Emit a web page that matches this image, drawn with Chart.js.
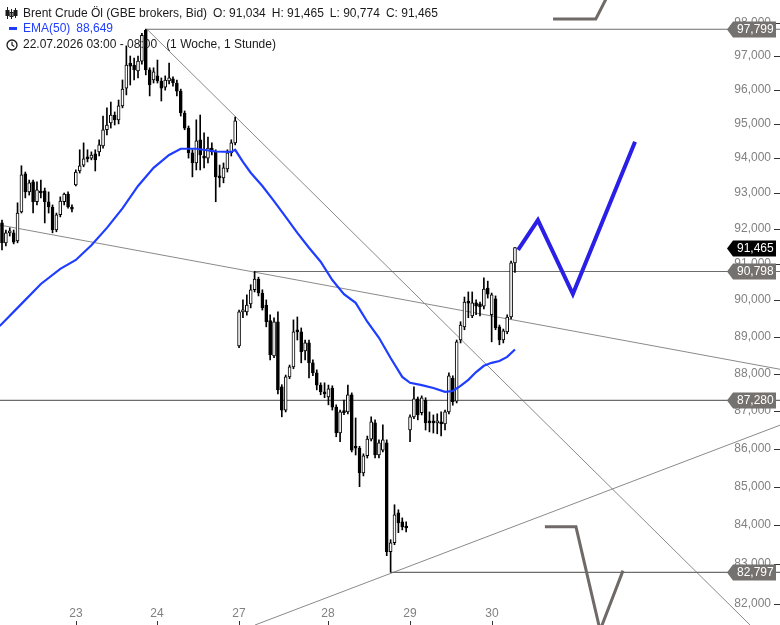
<!DOCTYPE html>
<html lang="de">
<head>
<meta charset="utf-8">
<title>Brent Crude Öl</title>
<script src="https://cdn.jsdelivr.net/npm/chart.js@4.4.1/dist/chart.umd.min.js"></script>
<style>
  html, body { margin: 0; padding: 0; background: #fff; }
  #wrap { position: relative; width: 780px; height: 625px; overflow: hidden;
          font-family: "Liberation Sans", Arial, sans-serif; }
  #chart { position: absolute; left: 0; top: 0; }
  .info { position: absolute; left: 23px; font-size: 12px; line-height: 14px;
          color: #1a1a1a; white-space: nowrap; }
  .info span + span { margin-left: 6px; }
  .ema { color: #1f3dff; }
  .ico { position: absolute; }
</style>
</head>
<body>
<div id="wrap">
  <canvas id="chart" width="780" height="625"></canvas>

  <svg class="ico" style="left:5px;top:7px" width="13" height="12" viewBox="0 0 13 12">
    <g stroke="#1a1a1a" stroke-width="1" fill="none">
      <line x1="2.5" y1="0" x2="2.5" y2="12"/><rect x="1" y="3.5" width="3" height="5" fill="#1a1a1a"/>
      <line x1="6.5" y1="2" x2="6.5" y2="12"/><rect x="5" y="5.5" width="3" height="4"/>
      <line x1="10.5" y1="1" x2="10.5" y2="11"/><rect x="9" y="3.5" width="3" height="5" fill="#1a1a1a"/>
    </g>
  </svg>
  <div class="info" style="top:6px"><span>Brent Crude Öl (GBE brokers, Bid)</span><span>O: 91,034</span><span>H: 91,465</span><span>L: 90,774</span><span>C: 91,465</span></div>

  <div class="ico" style="left:9px;top:27px;width:8px;height:3px;background:#1f3dff"></div>
  <div class="info ema" style="top:21px"><span>EMA(50)</span><span>88,649</span></div>

  <svg class="ico" style="left:6px;top:39px" width="12" height="12" viewBox="0 0 12 12">
    <circle cx="6" cy="6" r="5" stroke="#1a1a1a" stroke-width="1.3" fill="none"/>
    <polyline points="6,2.8 6,6 8.3,7.6" stroke="#1a1a1a" stroke-width="1.2" fill="none"/>
  </svg>
  <div class="info" style="top:37px"><span>22.07.2026 03:00 - 08:00</span><span style="margin-left:9px">(1 Woche, 1 Stunde)</span></div>
</div>

<script>
// Stundenkerzen, Index 0 = erste sichtbare Kerze
const opens = [
  92.16, 91.60, 91.88, 91.88, 91.65, 92.47, 93.56, 93.04, 93.33, 92.76,
  93.04, 93.07, 92.76, 92.61, 91.96, 92.39, 92.76, 92.98, 92.61, 93.24,
  93.64, 93.81, 94.04, 94.01, 94.13, 94.19, 94.36, 94.83, 95.03, 95.26,
  95.12, 95.53, 96.05, 96.79, 96.73, 96.56, 96.85, 97.77, 96.59, 96.29,
  96.41, 96.26, 96.08, 96.26, 96.32, 96.20, 95.96, 95.32, 94.88, 94.16,
  93.87, 94.54, 94.07, 94.01, 94.30, 94.19, 93.50, 93.44, 93.70, 94.16,
  94.45, 88.75, 89.68, 89.68, 89.90, 90.29, 90.59, 90.20, 89.87, 89.44,
  88.48, 89.41, 87.64, 87.02, 87.91, 88.18, 89.19, 89.13, 88.61, 88.83,
  88.29, 88.02, 87.69, 87.51, 87.37, 87.61, 87.10, 86.41, 86.97, 86.97,
  87.43, 86.04, 86.01, 85.36, 85.81, 86.25, 86.68, 85.83, 85.96, 86.15,
  83.32, 83.55, 84.32, 84.09, 83.98, 86.49, 86.84, 87.32, 86.95, 87.29,
  86.71, 86.71, 86.68, 86.71, 86.65, 86.97, 87.88, 87.26, 88.91, 89.27,
  89.95, 89.57, 89.93, 89.90, 89.84, 90.34, 89.60, 90.04, 89.27, 88.91,
  89.13, 89.54, 91.034
];
const highs = [
  92.24, 91.96, 92.02, 91.96, 92.73, 93.79, 93.61, 93.38, 93.38, 93.33,
  93.38, 93.15, 93.04, 92.67, 92.44, 92.90, 93.01, 93.04, 92.67, 93.67,
  94.25, 94.45, 94.25, 94.19, 94.25, 94.54, 95.23, 95.47, 95.64, 95.35,
  95.70, 96.29, 97.30, 97.00, 96.94, 97.00, 97.68, 97.80, 96.65, 96.65,
  96.88, 96.35, 96.41, 96.79, 96.38, 96.29, 96.02, 95.38, 94.94, 94.25,
  95.12, 95.26, 94.74, 94.62, 94.45, 94.25, 93.81, 93.87, 94.25, 94.54,
  95.20, 89.73, 90.01, 90.15, 90.43, 90.80, 90.64, 90.29, 90.01, 89.60,
  89.52, 89.68, 87.70, 87.96, 88.23, 89.46, 89.54, 89.24, 88.91, 88.91,
  88.37, 88.10, 87.75, 87.75, 87.69, 87.67, 87.16, 87.02, 87.29, 87.69,
  87.48, 86.81, 86.06, 85.86, 86.33, 86.84, 86.76, 86.23, 86.63, 86.23,
  83.63, 84.53, 84.40, 84.19, 84.09, 86.89, 87.64, 87.37, 87.40, 87.35,
  86.97, 86.89, 86.92, 86.97, 87.02, 88.02, 87.94, 88.91, 89.41, 90.09,
  90.23, 90.23, 90.01, 89.95, 90.62, 90.53, 90.20, 90.12, 89.32, 89.21,
  89.60, 91.09, 91.465
];
const lows = [
  91.40, 91.51, 91.79, 91.57, 91.60, 92.44, 92.87, 92.95, 92.44, 92.67,
  92.87, 92.16, 92.44, 91.88, 91.91, 92.33, 92.67, 92.58, 92.47, 93.21,
  93.58, 93.76, 93.90, 93.96, 93.64, 94.07, 94.30, 94.68, 94.88, 94.97,
  95.00, 95.47, 95.85, 96.14, 96.29, 96.35, 96.76, 96.44, 95.82, 96.20,
  96.20, 95.67, 95.99, 96.17, 96.11, 95.82, 95.23, 94.83, 94.01, 93.47,
  93.67, 93.67, 93.73, 93.87, 94.10, 92.76, 93.18, 93.30, 93.61, 94.07,
  94.39, 88.70, 89.52, 89.59, 89.79, 90.23, 90.12, 89.73, 89.27, 88.37,
  88.43, 87.45, 86.84, 86.97, 87.86, 88.13, 88.91, 88.29, 88.37, 87.88,
  87.94, 87.56, 87.43, 87.35, 87.16, 87.02, 86.31, 86.18, 86.90, 86.92,
  85.91, 85.83, 85.00, 85.28, 85.75, 86.20, 85.75, 85.75, 85.91, 83.22,
  82.80, 83.50, 83.81, 83.88, 83.83, 86.18, 86.79, 86.76, 86.89, 86.49,
  86.44, 86.41, 86.39, 86.33, 86.49, 86.92, 87.15, 87.21, 88.83, 89.19,
  89.52, 89.52, 89.60, 89.57, 89.76, 90.06, 88.86, 89.19, 88.78, 88.83,
  89.08, 89.49, 90.774
];
const closes = [
  91.60, 91.88, 91.93, 91.62, 92.44, 93.53, 93.04, 93.30, 92.76, 93.10,
  93.01, 92.76, 92.61, 91.96, 92.39, 92.78, 92.98, 92.61, 92.55, 93.61,
  93.79, 93.99, 93.99, 94.10, 93.96, 94.39, 94.83, 94.97, 95.26, 95.12,
  95.53, 96.02, 96.73, 96.70, 96.59, 96.85, 97.62, 96.59, 96.14, 96.53,
  96.26, 96.05, 96.29, 96.35, 96.20, 95.96, 95.32, 94.88, 94.16, 93.87,
  94.51, 94.10, 94.01, 94.30, 94.19, 93.47, 93.44, 93.73, 94.16, 94.45,
  95.09, 89.68, 89.71, 89.87, 90.29, 90.59, 90.20, 89.79, 89.41, 88.51,
  89.41, 87.56, 87.02, 87.91, 88.18, 89.13, 89.13, 88.59, 88.83, 88.29,
  88.02, 87.69, 87.51, 87.45, 87.59, 87.10, 86.41, 86.97, 86.95, 87.43,
  85.96, 86.01, 85.36, 85.81, 86.25, 86.71, 85.83, 86.15, 86.23, 83.32,
  83.55, 84.27, 84.06, 83.96, 83.93, 86.84, 87.32, 86.89, 87.35, 86.68,
  86.68, 86.68, 86.71, 86.65, 86.97, 87.94, 87.24, 88.86, 89.32, 89.95,
  89.92, 89.93, 89.84, 89.82, 90.31, 90.17, 90.15, 89.24, 88.91, 89.16,
  89.54, 91.04, 91.465
];

// Achse
const dayLabels = ['23', '24', '27', '28', '29', '30'];
const dayStart = [19, 40, 61, 84, 105, 126];
const yTicks = [82, 83, 84, 85, 86, 87, 88, 89, 90, 91, 92, 93, 94, 95, 96, 97, 98];
const lastPrice = 91.465;

// EMA(50)
const emaIdx = [-0.6, 5, 10, 15, 19, 23, 27, 31, 35, 39, 43, 46, 50, 55, 59, 60, 62, 64, 67, 70,
  73, 76, 79, 82, 85, 88, 91, 94, 97, 100, 103, 105, 108, 111, 114, 116, 118, 120, 122, 124,
  126, 128, 130, 132];
const emaVal = [89.29, 89.90, 90.45, 90.87, 91.12, 91.53, 92.02, 92.57, 93.21, 93.73, 94.10,
  94.28, 94.28, 94.20, 94.19, 94.25, 93.90, 93.59, 93.21, 92.78, 92.33, 91.88, 91.46, 91.07,
  90.56, 90.17, 89.93, 89.41, 88.97, 88.42, 87.91, 87.75, 87.69, 87.61, 87.51, 87.53, 87.67,
  87.83, 88.04, 88.21, 88.29, 88.34, 88.45, 88.65];

// horizontale Marken
const levels = [97.799, 90.798, 87.280, 82.797];
const levelFrom = [36.8, 65, -1, 100];

// Trendlinien (Index, Kurs)
const trendAx = [37.3, 192.5], trendAy = [97.80, 81.47];
const trendBx = [-0.6, 200.5], trendBy = [92.10, 88.11];
const trendCx = [65.1, 200.5], trendCy = [81.47, 86.63];

// Prognose
const fcX = [132.8, 137.9, 146.9, 162.9];
const fcY = [91.40, 92.24, 90.17, 94.48];
const projTopX = [141.8, 152.8, 155.6];
const projTopY = [98.11, 98.11, 98.75];
const projBotX = [139.7, 147.7, 153.9, 159.8];
const projBotY = [83.96, 83.96, 81.34, 82.84];

const fmt = v => v.toFixed(3).replace('.', ',');
const idx = opens.map((_, i) => i);

function lineSet(xs, ys, color, width, order) {
    return {
        type: 'line',
        data: xs.map((x, k) => ({ x: x, y: ys[k] })),
        borderColor: color,
        borderWidth: width,
        pointRadius: 0,
        fill: false,
        tension: 0,
        order: order
    };
}

// Achsenbeschriftung, Preisschilder
const overlay = {
    id: 'overlay',
    afterDatasetsDraw(chart) {
        const { ctx, scales: { x, y } } = chart;
        ctx.save();
        ctx.font = '12px "Liberation Sans", Arial, sans-serif';
        ctx.textBaseline = 'middle';

        ctx.textAlign = 'right';
        yTicks.forEach(v => {
            const py = Math.round(y.getPixelForValue(v));
            ctx.fillStyle = '#808080';
            ctx.fillText(fmt(v), 771, py);
            ctx.fillStyle = '#333';
            ctx.fillRect(774, py, 6, 1);
        });

        function tag(v, color) {
            const py = Math.round(y.getPixelForValue(v)) + 0.5;
            ctx.fillStyle = color;
            ctx.beginPath();
            ctx.moveTo(727, py);
            ctx.lineTo(733, py - 8);
            ctx.lineTo(776, py - 8);
            ctx.lineTo(776, py + 8);
            ctx.lineTo(733, py + 8);
            ctx.closePath();
            ctx.fill();
            ctx.fillStyle = '#fff';
            ctx.textAlign = 'left';
            ctx.fillText(fmt(v), 737, py + 0.5);
        }
        levels.forEach(v => tag(v, '#75716e'));
        tag(lastPrice, '#000');

        ctx.textAlign = 'center';
        dayLabels.forEach((d, k) => {
            const px = Math.round(x.getPixelForValue(dayStart[k]));
            ctx.fillStyle = '#808080';
            ctx.fillText(d, px, 614);
            ctx.fillStyle = '#333';
            ctx.fillRect(px, 621, 1, 4);
        });
        ctx.restore();
    }
};

new Chart(document.getElementById('chart'), {
    type: 'bar',
    data: {
        datasets: [
            // Kerzen
            {
                data: idx.map(i => ({ x: i, y: [lows[i], highs[i]] })),
                backgroundColor: '#000',
                borderWidth: 0,
                barThickness: 1,
                grouped: false,
                order: 4
            },
            {
                data: idx.map(i => ({ x: i, y: [opens[i], closes[i]] })),
                backgroundColor: idx.map(i => closes[i] >= opens[i] ? '#fff' : '#000'),
                borderColor: '#000',
                borderWidth: 1,
                borderSkipped: false,
                barThickness: 3,
                minBarLength: 2,
                grouped: false,
                order: 3
            },
            lineSet(emaIdx, emaVal, '#1f3dff', 2.2, 2),
            ...levels.map((v, k) => lineSet([levelFrom[k], 200.5], [v, v], '#6c6c6c', 1.2, 5)),
            lineSet(trendAx, trendAy, '#8a8a8a', 1, 5),
            lineSet(trendBx, trendBy, '#8a8a8a', 1, 5),
            lineSet(trendCx, trendCy, '#8a8a8a', 1, 5),
            lineSet(fcX, fcY, '#2a1fe6', 4, 1),
            lineSet(projTopX, projTopY, '#6f6a68', 3, 1),
            lineSet(projBotX, projBotY, '#6f6a68', 3, 1)
        ]
    },
    options: {
        responsive: false,
        animation: false,
        events: [],
        layout: { padding: 0 },
        plugins: {
            legend: { display: false },
            tooltip: { enabled: false }
        },
        scales: {
            x: { type: 'linear', min: -0.515, max: 200.2, offset: false, display: false },
            y: { type: 'logarithmic', min: 81.47, max: 98.68, display: false }
        }
    },
    plugins: [overlay]
});
</script>
</body>
</html>
